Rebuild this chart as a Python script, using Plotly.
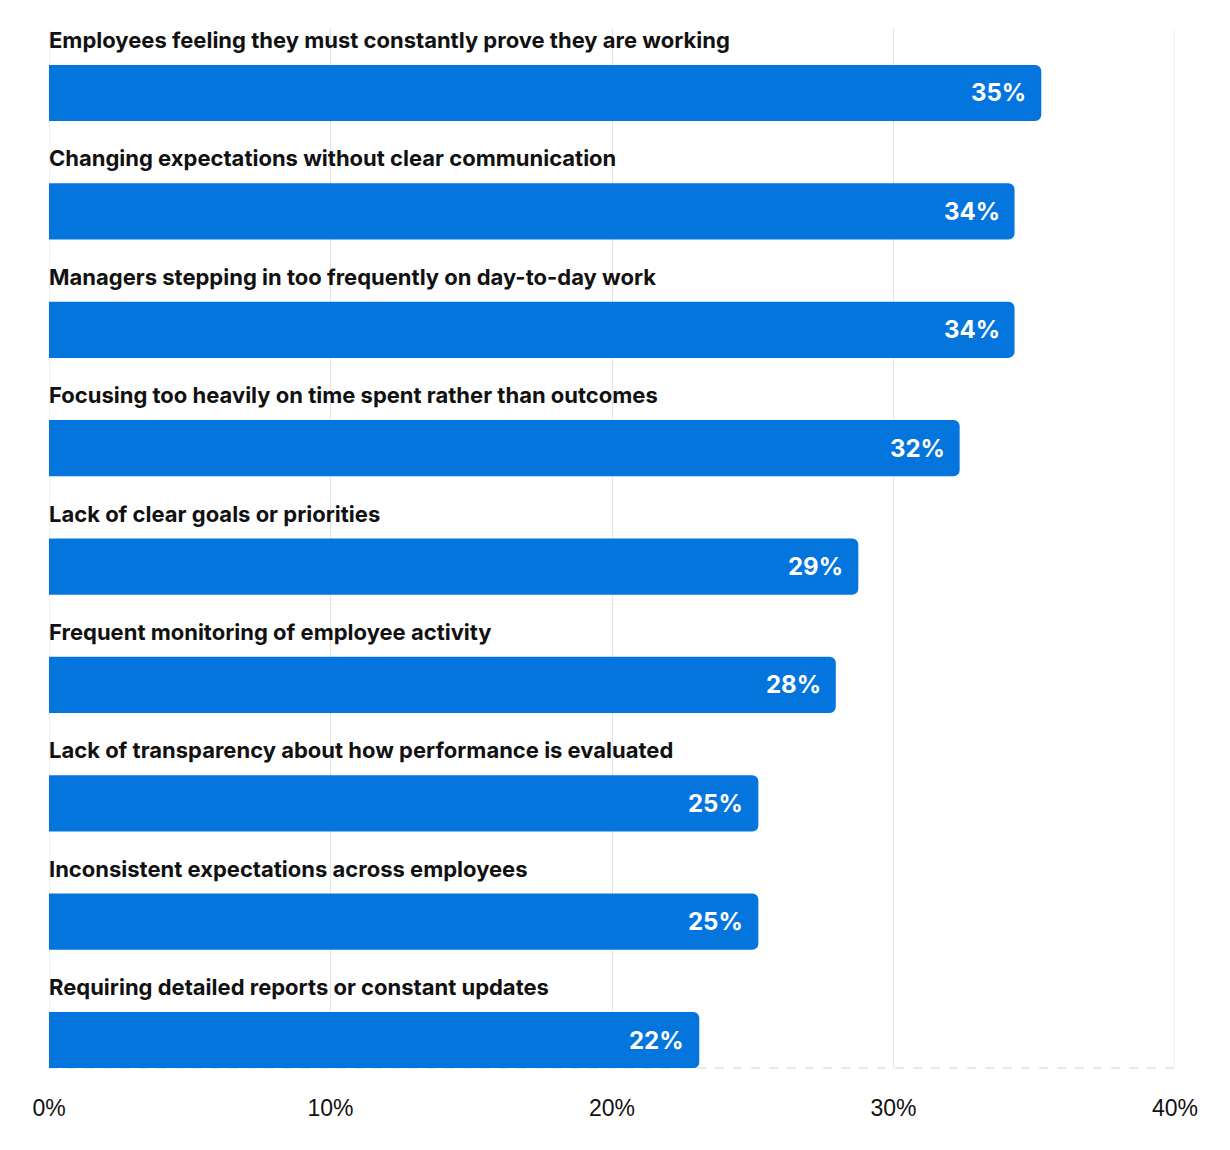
import plotly.graph_objects as go

categories = [
    "Employees feeling they must constantly prove they are working",
    "Changing expectations without clear communication",
    "Managers stepping in too frequently on day-to-day work",
    "Focusing too heavily on time spent rather than outcomes",
    "Lack of clear goals or priorities",
    "Frequent monitoring of employee activity",
    "Lack of transparency about how performance is evaluated",
    "Inconsistent expectations across employees",
    "Requiring detailed reports or constant updates",
]
values = [35.25, 34.3, 34.3, 32.35, 28.75, 27.95, 25.2, 25.2, 23.1]
value_labels = ["35%", "34%", "34%", "32%", "29%", "28%", "25%", "25%", "22%"]
tick_vals = [0, 10, 20, 30, 40]
tick_text = ["0%", "10%", "20%", "30%", "40%"]

BAR = "#0575DE"
FONT = "Inter"
GRID = "#e3e3e3"

idx = list(range(len(categories)))

fig = go.Figure()
fig.add_trace(go.Bar(
    x=values, y=idx, orientation="h",
    marker=dict(color=BAR, line=dict(width=0)),
    width=0.475, hoverinfo="skip",
))

for i, (c, v, t) in enumerate(zip(categories, values, value_labels)):
    fig.add_annotation(x=0, y=i, text=c, xref="x", yref="y",
                       xanchor="left", yanchor="middle", yshift=53, xshift=-2,
                       showarrow=False,
                       font=dict(family=FONT, size=22, color="#111111", weight=700))
    fig.add_annotation(x=v, y=i, text=t, xref="x", yref="y",
                       xanchor="right", yanchor="middle", xshift=-13, showarrow=False,
                       font=dict(family=FONT, size=24, color="white", weight=700))

# edge gridlines (plotly omits grid at the range ends)
for gx in (tick_vals[0], tick_vals[-1]):
    fig.add_shape(type="line", xref="x", yref="paper", x0=gx, x1=gx, y0=0, y1=1,
                  line=dict(color=GRID, width=1), layer="below")

fig.add_shape(type="line", xref="x", yref="paper", x0=0, x1=40, y0=0, y1=0,
              line=dict(color="#d4d4d4", width=1, dash="dash"), layer="below")

fig.update_layout(
    width=1230, height=1150,
    margin=dict(l=49, r=55, t=28, b=82),
    paper_bgcolor="white", plot_bgcolor="white",
    showlegend=False, barcornerradius=6,
    xaxis=dict(range=[0, 40], tickvals=tick_vals, ticktext=tick_text,
               showgrid=True, gridcolor=GRID, gridwidth=1,
               zeroline=False, showline=False, ticks="",
               ticklabelstandoff=24,
               tickfont=dict(family="Liberation Sans", size=23, color="#111111")),
    yaxis=dict(range=[8.236, -0.549], showticklabels=False, showgrid=False,
               zeroline=False, showline=False),
)

fig.write_html("out.html")
